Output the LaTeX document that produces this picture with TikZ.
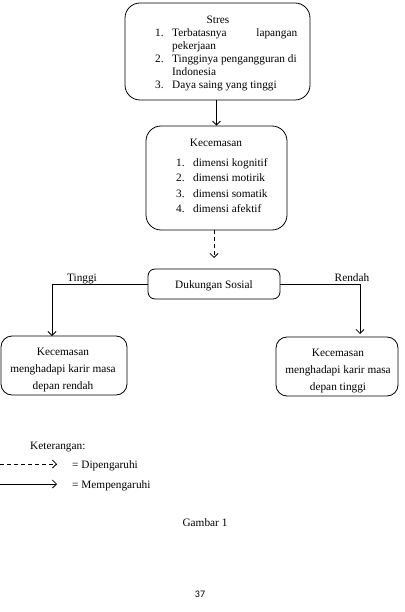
\documentclass[tikz,border=0pt]{standalone}
\usepackage{fontspec}
\setmainfont{Liberation Serif}
\newfontfamily\pagefont{Carlito}
\usetikzlibrary{arrows.meta}
\begin{document}
\begin{tikzpicture}[x=1pt,y=-1pt,
  box/.style={draw,line width=0.8pt,inner sep=0pt},
  txt/.style={inner sep=0pt,font=\fontsize{11.3}{13}\selectfont},
  lb/.style={txt,anchor=base west},
  ctr/.style={txt,anchor=base},
  arr/.style={line width=0.8pt,-{Straight Barb[length=4pt,width=8pt]}},
  darr/.style={arr,dash pattern=on 4pt off 3pt}]
\useasboundingbox (0,0) rectangle (404,612);
% boxes
\node[box,rounded corners=15pt,minimum width=185pt,minimum height=97pt] (stres) at (217.5,51.5) {};
\node[box,rounded corners=15pt,minimum width=141pt,minimum height=104pt] (kec) at (216.5,178) {};
\node[box,rounded corners=7pt,minimum width=132pt,minimum height=30pt] (duk) at (214,284) {};
\node[box,rounded corners=11pt,minimum width=126pt,minimum height=59pt] (kl) at (64,365.5) {};
\node[box,rounded corners=11pt,minimum width=122pt,minimum height=59pt] (kr) at (337,366.5) {};
% stres text
\node[ctr] (st) at (218,24) {Stres};
\node[lb] (s1n) at (155,37) {1.};
\node[lb] (s1) at (172,37) {\hbox to 125pt{Terbatasnya\hfill lapangan}};
\node[lb] (s1b) at (172,50) {pekerjaan};
\node[lb] (s2n) at (155,63) {2.};
\node[lb] (s2) at (172,63) {Tingginya pengangguran di};
\node[lb] (s2b) at (172,76) {Indonesia};
\node[lb] (s3n) at (155,89) {3.};
\node[lb] (s3) at (172,89) {Daya saing yang tinggi};
% kecemasan text
\node[ctr] (kt) at (216,147) {Kecemasan};
\node[lb] (k1n) at (176,167) {1.};
\node[lb] (k1) at (193,167) {dimensi kognitif};
\node[lb] (k2n) at (176,182) {2.};
\node[lb] (k2) at (193,182) {dimensi motirik};
\node[lb] (k3n) at (176,197) {3.};
\node[lb] (k3) at (193,197) {dimensi somatik};
\node[lb] (k4n) at (176,212) {4.};
\node[lb] (k4) at (193,212) {dimensi afektif};
% dukungan
\node[ctr] (dt) at (214,288) {Dukungan Sosial};
\node[ctr] (tg) at (82,281) {Tinggi};
\node[ctr] (rd) at (352,281) {Rendah};
% bottom texts
\node[ctr] (l1) at (63,355) {Kecemasan};
\node[ctr] (l2) at (63,372) {menghadapi karir masa};
\node[ctr] (l3) at (63,389) {depan rendah};
\node[ctr] (r1) at (338,356) {Kecemasan};
\node[ctr] (r2) at (338,373) {menghadapi karir masa};
\node[ctr] (r3) at (338,390) {depan tinggi};
% connectors
\draw[arr] (kec.north |- stres.south) -- (kec.north);
\coordinate (dend) at (214,258);
\draw[darr] (dend |- kec.south) -- (dend);
\coordinate (ltip) at (52,336);
\coordinate (rtip) at (360,334);
\draw[arr] (duk.west) -| (ltip);
\draw[arr] (duk.east) -| (rtip);
% legend
\node[lb] (ket) at (30,449) {Keterangan:};
\coordinate (d0) at (0,464);
\coordinate (d1) at (57,464);
\coordinate (m0) at (0,484);
\coordinate (m1) at (57,484);
\draw[darr] (d0) -- (d1);
\draw[arr] (m0) -- (m1);
\node[lb] (dip) at (72,468) {= Dipengaruhi};
\node[lb] (mem) at (72,488) {= Mempengaruhi};
\node[ctr] (gb) at (205,526) {Gambar 1};
\node[inner sep=0pt,anchor=base,font=\pagefont\fontsize{10}{12}\selectfont] (pg) at (200,597) {37};
\end{tikzpicture}
\end{document}
